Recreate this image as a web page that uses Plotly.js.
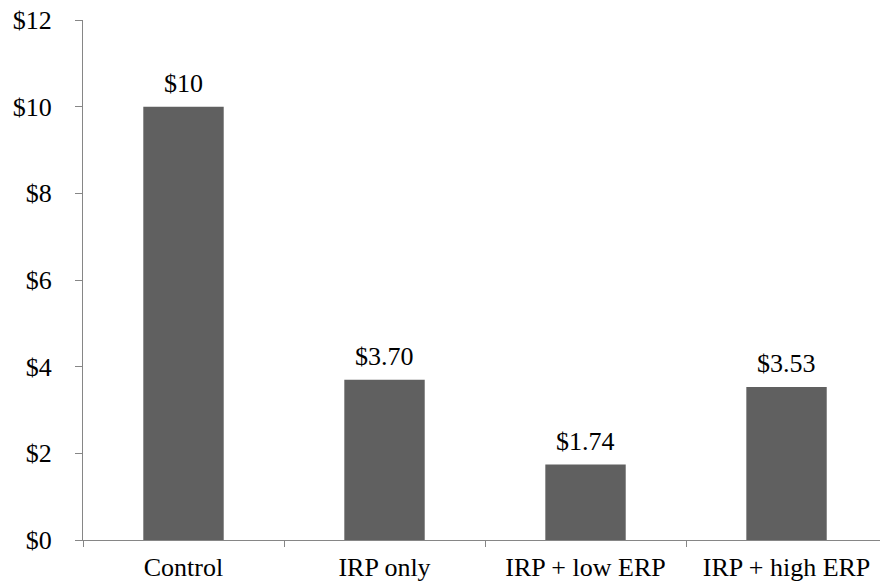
<!DOCTYPE html>
<html>
<head>
<meta charset="utf-8">
<script src="https://cdn.plot.ly/plotly-3.0.1.min.js"></script>
<style>html,body{margin:0;padding:0;background:#fff;}#chart{width:880px;height:587px;}</style>
</head>
<body>
<div id="chart"></div>
<script>
const categories = ["Control", "IRP only", "IRP + low ERP", "IRP + high ERP"];
const values = [10, 3.70, 1.74, 3.53];
const valueLabels = ["$10", "$3.70", "$1.74", "$3.53"];
const yTickVals = [0, 2, 4, 6, 8, 10, 12];
const yTickText = ["$0", "$2", "$4", "$6", "$8", "$10", "$12"];

const font = {family: "Liberation Serif", size: 26, color: "#000"};

const trace = {
  type: "bar",
  x: categories,
  y: values,
  width: 0.4,
  marker: {color: "#606060", line: {width: 0}},
  hoverinfo: "none"
};

const annotations = categories.map((c, i) => ({
  x: c, y: values[i], text: valueLabels[i],
  xref: "x", yref: "y", showarrow: false,
  yanchor: "bottom", yshift: 7,
  font: font
}));

const layout = {
  width: 880, height: 587,
  margin: {l: 83, r: 0, t: 20, b: 47, pad: 0},
  paper_bgcolor: "#fff", plot_bgcolor: "#fff",
  font: font,
  showlegend: false,
  bargap: 0.6,
  xaxis: {
    type: "category",
    range: [-0.5, 3.465],
    showline: true, linecolor: "#868686", linewidth: 1,
    ticks: "outside", tickson: "boundaries", ticklen: 6, tickcolor: "#868686", tickwidth: 1,
    showgrid: false, zeroline: false,
    tickfont: font,
    ticklabelstandoff: 4
  },
  yaxis: {
    range: [0, 12],
    tickvals: yTickVals, ticktext: yTickText,
    showline: true, linecolor: "#868686", linewidth: 1,
    ticks: "outside", ticklen: 7, tickcolor: "#868686", tickwidth: 1,
    showgrid: false, zeroline: false,
    tickfont: font,
    ticklabelstandoff: 18
  },
  annotations: annotations
};

Plotly.newPlot("chart", [trace], layout, {displayModeBar: false, staticPlot: true});
</script>
</body>
</html>
